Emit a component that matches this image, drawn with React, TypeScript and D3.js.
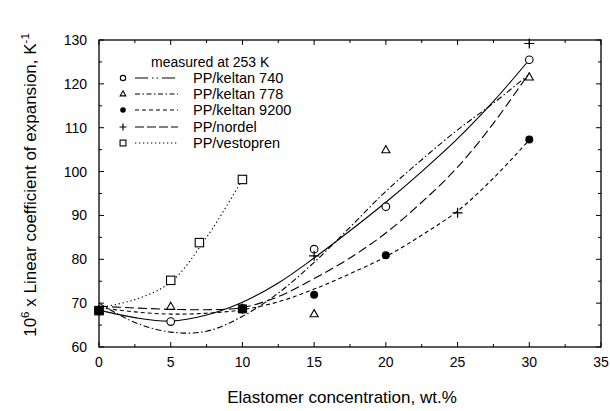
import React from "react";
import * as d3 from "d3";

const W = 610;
const H = 411;

const xTicks = [0, 5, 10, 15, 20, 25, 30, 35];
const yTicks = [60, 70, 80, 90, 100, 110, 120, 130];

// measured points
const k740Pts: [number, number][] = [[0, 68.3], [5, 65.8], [10, 68.7], [15, 82.3], [20, 92], [30, 125.5]];
const k778Pts: [number, number][] = [[0, 68.3], [5, 69.2], [10, 68.7], [15, 67.5], [20, 104.9], [30, 121.5]];
const k9200Pts: [number, number][] = [[0, 68.3], [10, 68.7], [15, 71.9], [20, 80.9], [30, 107.3]];
const nordelPts: [number, number][] = [[0, 68.3], [10, 68.7], [15, 80.8], [25, 90.6], [30, 129.2]];
const vestoPts: [number, number][] = [[0, 68.3], [5, 75.2], [7, 83.8], [10, 98.2]];

// fitted curves
const k740Fit: [number, number][] = [[0, 68.4], [2.5, 66.7], [5, 65.9], [7.5, 67.3], [10, 70.2], [12.5, 74.6], [15, 80.3], [17.5, 86.5], [20, 93], [22.5, 100], [25, 107.5], [27.5, 116], [30, 125.5]];
const k778Fit: [number, number][] = [[0, 70], [2.5, 65.6], [5, 63.4], [7.5, 63.6], [10, 67], [12.5, 72.3], [15, 79.3], [17.5, 87.3], [20, 95.5], [22.5, 102.7], [25, 109.5], [27.5, 115.6], [30, 122.2]];
const k9200Fit: [number, number][] = [[0, 69], [2.5, 68], [5, 67.5], [7.5, 67.7], [10, 68.5], [12.5, 70.3], [15, 73.2], [17.5, 76.7], [20, 80.6], [22.5, 85.5], [25, 91], [27.5, 98.5], [30, 107.2]];
const nordelFit: [number, number][] = [[0, 69.3], [2.5, 68.9], [5, 68.6], [7.5, 68.5], [10, 69], [12.5, 71.5], [15, 75.6], [17.5, 80.3], [20, 86], [22.5, 93], [25, 101], [27.5, 111], [30, 122.5]];
const vestoFit: [number, number][] = [[0, 69], [2.5, 70.8], [5, 74.8], [7.5, 85], [10, 98.2]];

const seriesNames = ["PP/keltan 740", "PP/keltan 778", "PP/keltan 9200", "PP/nordel", "PP/vestopren"];
const markers = ["circle", "triangle", "dot", "plus", "square"];
const curveDash = ["none", "6,2.5,1.5,2.5", "4,3", "9,4", "1.3,2.7"];
const legendDash = ["13,4,1.5,3,1.5,4", "5,2.5,1.5,2.5", "4,3", "9,3", "1.3,2.7"];
const allPts = [k740Pts, k778Pts, k9200Pts, nordelPts, vestoPts];
const allFits = [k740Fit, k778Fit, k9200Fit, nordelFit, vestoFit];

const FONT = "'Liberation Sans', Arial, Helvetica, sans-serif";

function Marker({ type, x, y, s = 1 }: { type: string; x: number; y: number; s?: number }) {
  const sw = 1.1;
  if (type === "circle") return <circle cx={x} cy={y} r={3.8 * s} fill="white" stroke="black" strokeWidth={sw} />;
  if (type === "dot") return <circle cx={x} cy={y} r={4 * s} fill="black" />;
  if (type === "triangle") {
    const r = 4.5 * s;
    return <path d={`M${x},${y - r}L${x + r * 0.9},${y + r * 0.6}L${x - r * 0.9},${y + r * 0.6}Z`} fill="white" stroke="black" strokeWidth={sw} />;
  }
  if (type === "plus") {
    const r = 5 * s;
    return <path d={`M${x - r},${y}H${x + r}M${x},${y - r}V${y + r}`} stroke="black" strokeWidth={1.2} />;
  }
  const r = 4.2 * s;
  return <rect x={x - r} y={y - r} width={2 * r} height={2 * r} fill="white" stroke="black" strokeWidth={sw} />;
}

export default function App() {
  const left = 99, right = 601, top = 40, bottom = 347;
  const x = d3.scaleLinear().domain([0, 35]).range([left, right]);
  const y = d3.scaleLinear().domain([60, 130]).range([bottom, top]);
  const line = d3.line<[number, number]>().x(d => x(d[0])).y(d => y(d[1])).curve(d3.curveCatmullRom.alpha(0.5));

  const minorX = d3.range(0, 35.01, 2.5);
  const minorY = d3.range(60, 130.01, 5);

  const legX0 = 135, legX1 = 178, legMX = 123, legTX = 193;
  const legY = [78, 94, 110, 127, 143];

  return (
    <svg width={W} height={H} style={{ position: "absolute", left: 0, top: 0, background: "white" }} fontFamily={FONT}>
      <rect x={0} y={0} width={W} height={H} fill="white" />
      {/* frame */}
      <rect x={left} y={top} width={right - left} height={bottom - top} fill="none" stroke="black" strokeWidth={1.3} />
      {/* ticks */}
      {minorX.map(v => {
        const major = v % 5 === 0;
        const len = major ? 5 : 3;
        return (
          <g key={"xt" + v}>
            <line x1={x(v)} x2={x(v)} y1={bottom} y2={bottom - len} stroke="black" strokeWidth={1} />
            <line x1={x(v)} x2={x(v)} y1={top} y2={top + len} stroke="black" strokeWidth={1} />
          </g>
        );
      })}
      {minorY.map(v => {
        const major = v % 10 === 0;
        const len = major ? 5 : 3;
        return (
          <g key={"yt" + v}>
            <line x1={left} x2={left + len} y1={y(v)} y2={y(v)} stroke="black" strokeWidth={1} />
            <line x1={right} x2={right - len} y1={y(v)} y2={y(v)} stroke="black" strokeWidth={1} />
          </g>
        );
      })}
      {xTicks.map(v => (
        <text key={"xl" + v} x={x(v)} y={367} textAnchor="middle" fontSize={14}>{v}</text>
      ))}
      {yTicks.map(v => (
        <text key={"yl" + v} x={87} y={y(v) + 5} textAnchor="end" fontSize={14}>{v}</text>
      ))}
      <text x={342} y={403} textAnchor="middle" fontSize={17}>Elastomer concentration,  wt.%</text>
      <text transform={`translate(36,${185}) rotate(-90)`} textAnchor="middle" fontSize={17}>
        10<tspan fontSize={11.5} dy={-7}>6</tspan><tspan dy={7}> x Linear coefficient of expansion,  K</tspan><tspan fontSize={11.5} dy={-7}>-1</tspan>
      </text>

      {/* curves */}
      {allFits.map((f, i) => (
        <path key={"c" + i} d={line(f) || ""} fill="none" stroke="black" strokeWidth={1.1} strokeDasharray={curveDash[i]} />
      ))}
      {/* points */}
      {allPts.map((pts, i) => pts.map((p, j) => (
        <Marker key={`m${i}-${j}`} type={markers[i]} x={x(p[0])} y={y(p[1])} />
      )))}
      {/* overlapped markers at 0 and 10 appear as filled squares */}
      {[k9200Pts[0], k9200Pts[1]].map((p, j) => (
        <rect key={"ov" + j} x={x(p[0]) - 4.5} y={y(p[1]) - 4.5} width={9} height={9} fill="black" />
      ))}

      {/* legend */}
      <text x={151} y={67} fontSize={14}>measured at 253 K</text>
      {seriesNames.map((n, i) => (
        <g key={"lg" + i}>
          <Marker type={markers[i]} x={legMX} y={legY[i]} s={0.7} />
          <line x1={legX0} x2={legX1} y1={legY[i]} y2={legY[i]} stroke="black" strokeWidth={1.1} strokeDasharray={legendDash[i]} />
          <text x={legTX} y={legY[i] + 5} fontSize={14.5}>{n}</text>
        </g>
      ))}
    </svg>
  );
}
